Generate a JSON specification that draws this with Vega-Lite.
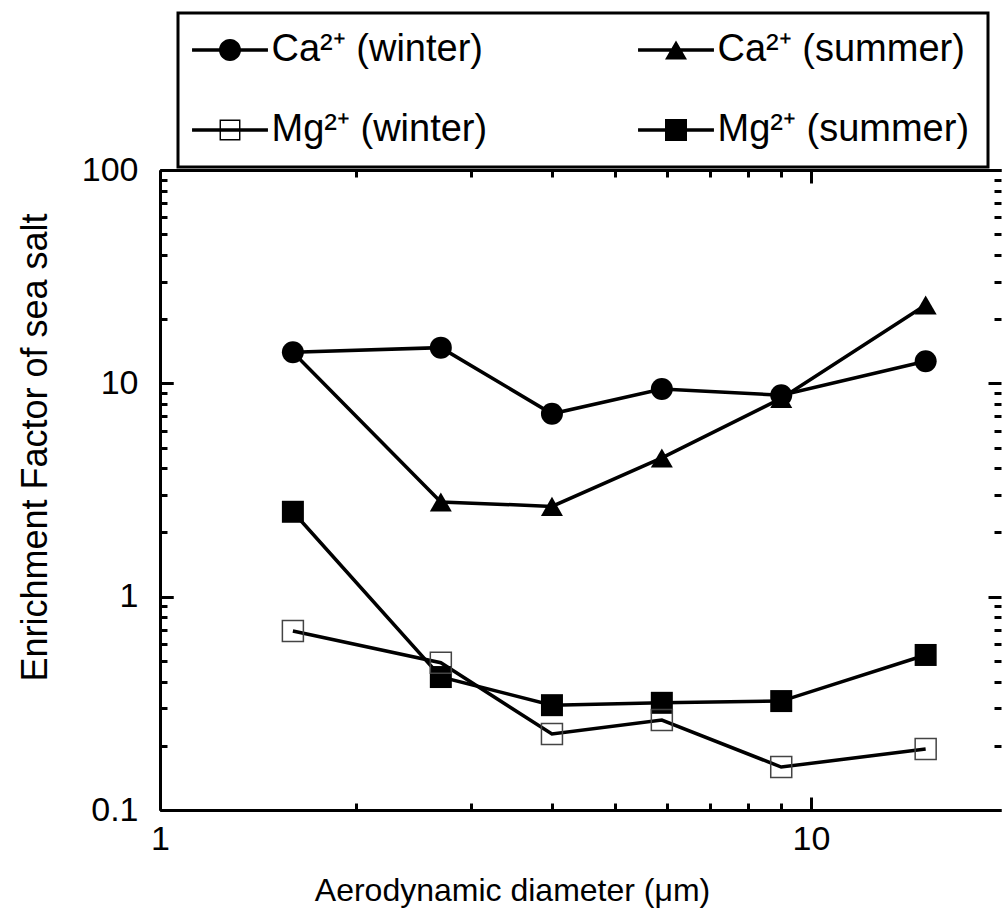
{
  "$schema": "https://vega.github.io/schema/vega-lite/v6.json",
  "width": 841,
  "height": 640,
  "autosize": {"type": "none"},
  "padding": {"left": 160, "top": 170, "right": 1, "bottom": 108},
  "background": "white",
  "config": {
    "font": "Liberation Sans",
    "view": {"stroke": null},
    "axis": {
      "domainColor": "black", "domainWidth": 3, "tickColor": "black", "tickWidth": 3,
      "labelFont": "Liberation Sans", "labelFontSize": 34, "labelColor": "black",
      "titleFont": "Liberation Sans", "titleFontSize": 32, "titleFontWeight": "normal", "titleColor": "black",
      "grid": false, "labelOverlap": false, "labelFlush": false, "labelBound": false
    }
  },
  "data": {"values": [
    {"series": "CaW", "d": 1.6, "ef": 14.0}, {"series": "CaW", "d": 2.7, "ef": 14.7}, {"series": "CaW", "d": 4.0, "ef": 7.2},
    {"series": "CaW", "d": 5.9, "ef": 9.4}, {"series": "CaW", "d": 9.0, "ef": 8.8}, {"series": "CaW", "d": 15, "ef": 12.7},
    {"series": "CaS", "d": 1.6, "ef": 14.0}, {"series": "CaS", "d": 2.7, "ef": 2.78}, {"series": "CaS", "d": 4.0, "ef": 2.65},
    {"series": "CaS", "d": 5.9, "ef": 4.47}, {"series": "CaS", "d": 9.0, "ef": 8.5}, {"series": "CaS", "d": 15, "ef": 23.3},
    {"series": "MgW", "d": 1.6, "ef": 0.69}, {"series": "MgW", "d": 2.7, "ef": 0.49}, {"series": "MgW", "d": 4.0, "ef": 0.227},
    {"series": "MgW", "d": 5.9, "ef": 0.264}, {"series": "MgW", "d": 9.0, "ef": 0.159}, {"series": "MgW", "d": 15, "ef": 0.193},
    {"series": "MgS", "d": 1.6, "ef": 2.5}, {"series": "MgS", "d": 2.7, "ef": 0.42}, {"series": "MgS", "d": 4.0, "ef": 0.31},
    {"series": "MgS", "d": 5.9, "ef": 0.318}, {"series": "MgS", "d": 9.0, "ef": 0.324}, {"series": "MgS", "d": 15, "ef": 0.533}
  ]},
  "resolve": {"axis": {"x": "independent", "y": "independent"}},
  "layer": [
    {
      "mark": {"type": "line", "strokeWidth": 3.5},
      "encoding": {
        "x": {"field": "d", "type": "quantitative", "scale": {"type": "log", "domain": [1, 19.58], "nice": false},
          "axis": {"orient": "bottom", "values": [1, 10], "format": "~g", "ticks": true, "tickSize": -13, "tickColor": "#000000", "tickWidth": 3,
            "labelPadding": 25, "title": "Aerodynamic diameter (μm)",
            "titleX": 352, "titleY": 90, "titleAlign": "center", "titleBaseline": "alphabetic"}},
        "y": {"field": "ef", "type": "quantitative", "scale": {"type": "log", "domain": [0.1, 100], "nice": false},
          "axis": {"orient": "left", "values": [0.1, 1, 10, 100], "format": "~g", "ticks": true, "tickSize": -13, "tickColor": "#000000", "tickWidth": 3,
            "labelPadding": 35, "title": "Enrichment Factor of sea salt", "titleFontSize": 36,
            "titleX": -125, "titleY": 277, "titleAngle": -90, "titleAlign": "center", "titleBaseline": "middle"}},
        "color": {"field": "series", "type": "nominal",
          "scale": {"domain": ["CaW", "MgW", "CaS", "MgS"], "range": ["black", "black", "black", "black"]},
          "legend": {
            "orient": "none", "legendX": 18, "legendY": -157, "columns": 2, "title": null,
            "labelFont": "Liberation Sans", "labelFontSize": 38, "labelColor": "black", "labelLimit": 0,
            "labelExpr": "datum.value == 'CaW' ? 'Ca²⁺ (winter)' : datum.value == 'CaS' ? 'Ca²⁺ (summer)' : datum.value == 'MgW' ? 'Mg²⁺ (winter)' : 'Mg²⁺ (summer)'",
            "symbolSize": 484, "symbolOffset": 15, "labelOffset": 22.5,
            "columnPadding": 150, "rowPadding": 42, "padding": 18,
            "strokeColor": "black", "fillColor": "white",
            "encode": {
              "legend": {"update": {"strokeWidth": {"value": 3}}},
              "symbols": {"update": {
                "shape": {"signal": "datum.value == 'CaW' ? 'M-3.45,-0.16H3.45V0.16H-3.45Z M-1,0A1,1,0,1,1,1,0A1,1,0,1,1,-1,0Z' : datum.value == 'CaS' ? 'M-3.45,-0.16H3.45V0.16H-3.45Z M0,-0.866L1,0.866L-1,0.866Z' : datum.value == 'MgW' ? 'M-3.45,-0.16H3.45V0.16H-3.45Z M-0.95,-0.95H0.95V0.95H-0.95Z M-0.82,-0.82V0.82H0.82V-0.82Z' : 'M-3.45,-0.16H3.45V0.16H-3.45Z M-1,-1H1V1H-1Z'"},
                "fill": {"value": "black"}, "fillOpacity": {"value": 1},
                "stroke": {"value": "transparent"}, "strokeWidth": {"value": 0}, "size": {"value": 484}
              }}
            }
          }}
      }
    },
    {
      "transform": [{"filter": "datum.series == 'CaW'"}],
      "mark": {"type": "point", "filled": true, "shape": "circle", "color": "black", "size": 484, "opacity": 1, "strokeWidth": 0},
      "encoding": {
        "x": {"field": "d", "type": "quantitative",
          "axis": {"orient": "top", "values": [1, 10], "ticks": true, "tickSize": 13, "offset": -13, "tickColor": "#000000", "tickWidth": 3, "labels": false, "title": null, "domain": false}},
        "y": {"field": "ef", "type": "quantitative",
          "axis": {"orient": "right", "values": [0.1, 1, 10, 100], "ticks": true, "tickSize": -13, "tickColor": "#000000", "tickWidth": 3, "labels": false, "title": null, "domain": false}}
      }
    },
    {
      "transform": [{"filter": "datum.series == 'CaS' && datum.d != 1.6"}],
      "mark": {"type": "point", "filled": true, "shape": "triangle-up", "color": "black", "size": 484, "opacity": 1, "strokeWidth": 0},
      "encoding": {
        "x": {"field": "d", "type": "quantitative",
          "axis": {"orient": "bottom", "values": [2,3,4,5,6,7,8,9], "ticks": true, "tickSize": 7, "offset": -7, "tickColor": "#000000", "tickWidth": 3, "labels": false, "title": null, "domain": false}},
        "y": {"field": "ef", "type": "quantitative",
          "axis": {"orient": "left", "values": [0.2,0.3,0.4,0.5,0.6,0.7,0.8,0.9,2,3,4,5,6,7,8,9,20,30,40,50,60,70,80,90], "ticks": true, "tickSize": 7, "offset": -7, "tickColor": "#000000", "tickWidth": 3, "labels": false, "title": null, "domain": false}}
      }
    },
    {
      "transform": [{"filter": "datum.series == 'MgS'"}],
      "mark": {"type": "point", "filled": true, "shape": "square", "color": "black", "size": 484, "opacity": 1, "strokeWidth": 0},
      "encoding": {
        "x": {"field": "d", "type": "quantitative",
          "axis": {"orient": "top", "values": [2,3,4,5,6,7,8,9], "ticks": true, "tickSize": 7, "offset": -7, "tickColor": "#000000", "tickWidth": 3, "labels": false, "title": null, "domain": false}},
        "y": {"field": "ef", "type": "quantitative",
          "axis": {"orient": "right", "values": [0.2,0.3,0.4,0.5,0.6,0.7,0.8,0.9,2,3,4,5,6,7,8,9,20,30,40,50,60,70,80,90], "ticks": true, "tickSize": -7, "tickColor": "#000000", "tickWidth": 3, "labels": false, "title": null, "domain": false}}
      }
    },
    {
      "transform": [{"filter": "datum.series == 'MgW'"}],
      "mark": {"type": "point", "shape": "square", "filled": false, "stroke": "#444444", "strokeWidth": 1.5, "size": 441, "opacity": 1},
      "encoding": {
        "x": {"field": "d", "type": "quantitative",
          "axis": {"orient": "top", "values": [1, 10], "ticks": false, "labels": false, "title": null, "domain": true}},
        "y": {"field": "ef", "type": "quantitative",
          "axis": {"orient": "left", "values": [0.1, 1, 10, 100], "ticks": true, "tickSize": 13, "offset": -13, "tickColor": "#000000", "tickWidth": 3, "labels": false, "title": null, "domain": false}}
      }
    }
  ]
}
